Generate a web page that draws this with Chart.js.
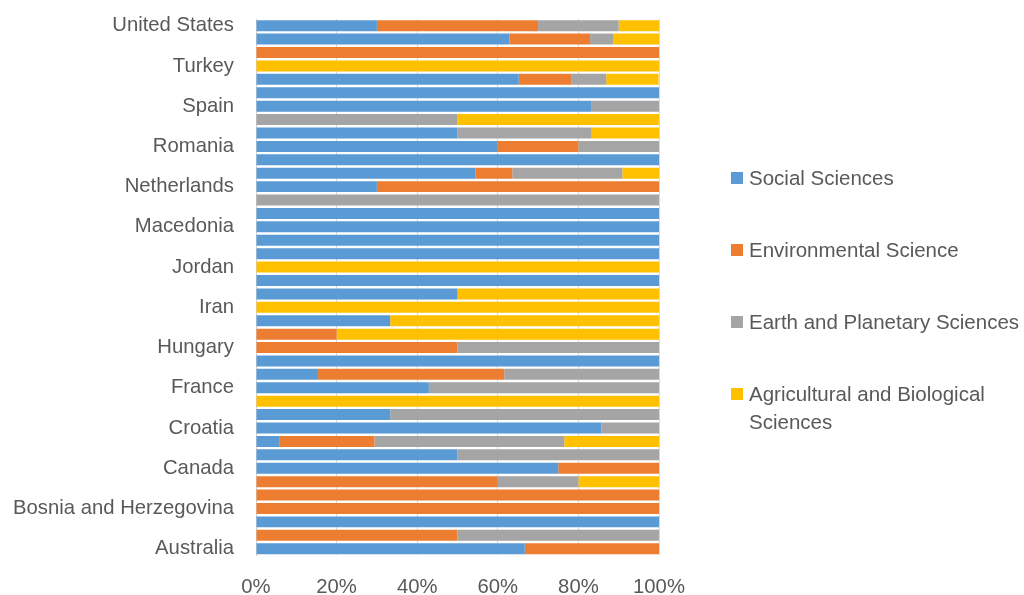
<!DOCTYPE html>
<html>
<head>
<meta charset="utf-8">
<script src="https://cdn.jsdelivr.net/npm/chart.js@4"></script>
<style>
  html, body { margin:0; padding:0; background:#fff; }
  #wrap { position:relative; width:1024px; height:595px; }
  #legend { position:absolute; left:731px; top:164px; font:20.5px "Liberation Sans", Arial, sans-serif; color:#595959; }
  .item { display:flex; align-items:flex-start; margin-bottom:44px; line-height:28px; }
  .box { width:12px; height:12px; margin-top:8px; margin-right:6px; flex:none; }
  .txt { width:278px; }
</style>
</head>
<body>
<div id="wrap">
  <canvas id="chart" width="1024" height="595"></canvas>
  <div id="legend"></div>
</div>
<script>
// countries, top to bottom; only every third one is labelled in the picture
const countries = [
  'United States','','','Turkey','','','Spain','','','Romania','','','Netherlands','','',
  'Macedonia','','','Jordan','','','Iran','','','Hungary','','','France','','',
  'Croatia','','','Canada','','','Bosnia and Herzegovina','','','Australia'
];
const seriesNames = ['Social Sciences','Environmental Science','Earth and Planetary Sciences','Agricultural and Biological Sciences'];
const social = [30,62.9,0,0,65.2,100,83.3,0,50,60, 100,54.5,30,0,100,100,100,100,0,100, 50,0,33.3,0,0,100,15.4,42.9,0,33.3, 85.7,5.9,50,75,0,0,0,100,0,66.7];
const environ = [40,20,100,0,13,0,0,0,0,20, 0,9.1,70,0,0,0,0,0,0,0, 0,0,0,20,50,0,46.2,0,0,0, 0,23.5,0,25,60,100,100,0,50,33.3];
const earth = [20,5.7,0,0,8.7,0,16.7,50,33.3,20, 0,27.3,0,100,0,0,0,0,0,0, 0,0,0,0,50,0,38.4,57.1,0,66.7, 14.3,47.1,50,0,20,0,0,0,50,0];
const agri = [10,11.4,0,100,13,0,0,50,16.7,0, 0,9.1,0,0,0,0,0,0,100,0, 50,100,66.7,80,0,0,0,0,100,0, 0,23.5,0,0,20,0,0,0,0,0];
const xTicks = [0,20,40,60,80,100];

const COLORS = ['#5B9BD5','#ED7D31','#A5A5A5','#FFC000'];
const GREY = '#595959', FONT = '"Liberation Sans", Arial, sans-serif';

const values = [social, environ, earth, agri];
const chart = new Chart(document.getElementById('chart'), {
  type:'bar',
  data:{
    labels: countries,
    datasets: seriesNames.map((n,i)=>({
      label:n, data:values[i], backgroundColor:COLORS[i], borderWidth:0,
      barPercentage:1, categoryPercentage:0.82
    }))
  },
  options:{
    indexAxis:'y',
    responsive:false,
    animation:false,
    layout:{ padding:{ top:19, right:365, left:0, bottom:0 } },
    plugins:{ legend:{ display:false }, tooltip:{ enabled:false } },
    scales:{
      x:{
        stacked:true, min:0, max:100,
        afterBuildTicks: s => { s.ticks = xTicks.map(v=>({value:v})); },
        afterFit: s => { s.height = 39.6; },
        grid:{ color:'#d9d9d9', drawTicks:false },
        border:{ display:false },
        ticks:{ color:GREY, font:{ family:FONT, size:20.3 }, padding:20, callback: v => v + '%' }
      },
      y:{
        stacked:true,
        afterFit: s => { s.width = 256; s.paddingTop = 0; s.paddingBottom = 0; },
        grid:{ display:false, drawTicks:false },
        border:{ color:'#d0d0d0' },
        ticks:{ color:GREY, font:{ family:FONT, size:20.3 }, padding:22, autoSkip:false }
      }
    }
  }
});

const leg = document.getElementById('legend');
chart.data.datasets.forEach(d=>{
  const it = document.createElement('div');
  it.className = 'item';
  it.innerHTML = `<span class="box" style="background:${d.backgroundColor}"></span><span class="txt">${d.label}</span>`;
  leg.appendChild(it);
});
</script>
</body>
</html>
